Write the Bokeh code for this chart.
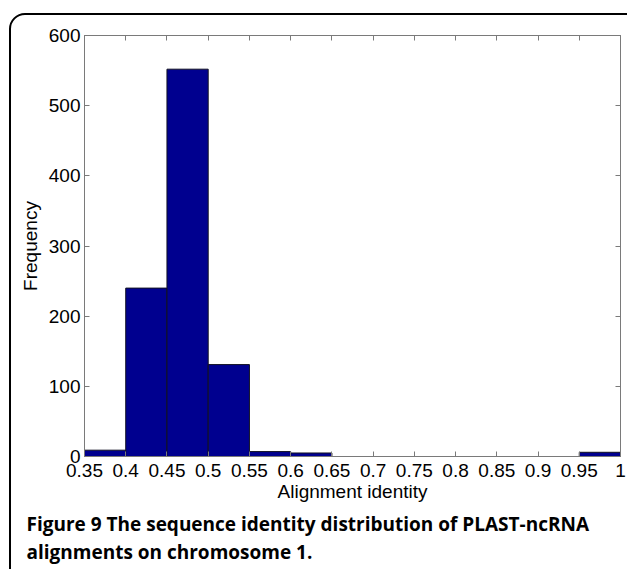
from bokeh.plotting import figure
from bokeh.models import (Range1d, FixedTicker, LinearAxis, Title, ColumnDataSource,
                          InlineStyleSheet)
from bokeh.embed import file_html
from bokeh.resources import INLINE

# Histogram of alignment identity (bin edges and counts per bin)
bin_edges = [0.35, 0.40, 0.45, 0.50, 0.55, 0.60, 0.65, 0.70,
             0.75, 0.80, 0.85, 0.90, 0.95, 1.00]
counts = [9, 240, 552, 131, 7, 5, 0, 0, 0, 0, 0, 0, 6]

x_ticks = [0.35, 0.40, 0.45, 0.50, 0.55, 0.60, 0.65, 0.70,
           0.75, 0.80, 0.85, 0.90, 0.95, 1.00]
x_tick_labels = ["0.35", "0.4", "0.45", "0.5", "0.55", "0.6", "0.65", "0.7",
                 "0.75", "0.8", "0.85", "0.9", "0.95", "1"]
y_ticks = [0, 100, 200, 300, 400, 500, 600]

x_title = "Alignment identity"
y_title = "Frequency"
caption_lines = ["Figure 9 The sequence identity distribution of PLAST-ncRNA",
                 "alignments on chromosome 1."]

TICK_FONT = "Liberation Sans"
AXIS_GRAY = "#7a7a7a"
BAR_BLUE = "#00008f"

# rounded panel border drawn around the whole figure area
panel_css = InlineStyleSheet(css="""
:host { position: relative; overflow: hidden; }
:host::after {
  content: ""; position: absolute; left: 9px; top: 13px;
  width: 660px; height: 640px; box-sizing: border-box;
  border: 2px solid #000; border-radius: 16px; pointer-events: none;
}
""")

p = figure(width=627, height=569, output_backend="svg", toolbar_location=None,
           x_range=Range1d(bin_edges[0], bin_edges[-1]), y_range=Range1d(0, 600),
           min_border_left=84, min_border_right=7, min_border_top=35,
           min_border_bottom=112, x_axis_location=None, y_axis_location=None,
           stylesheets=[panel_css])
p.background_fill_color = "white"
p.border_fill_color = "white"
p.outline_line_color = AXIS_GRAY
p.outline_line_width = 1
p.xgrid.visible = False
p.ygrid.visible = False

# bars (empty bins are left undrawn)
lefts, rights, tops = [], [], []
for i, c in enumerate(counts):
    if c > 0:
        lefts.append(bin_edges[i])
        rights.append(bin_edges[i + 1])
        tops.append(c)
src = ColumnDataSource(dict(left=lefts, right=rights, top=tops, bottom=[0] * len(tops)))
p.quad(left="left", right="right", top="top", bottom="bottom", source=src,
       fill_color=BAR_BLUE, line_color="#111122", line_width=1)


def style_axis(ax):
    ax.axis_line_color = AXIS_GRAY
    ax.major_tick_line_color = AXIS_GRAY
    ax.major_tick_in = 5
    ax.major_tick_out = 0
    ax.minor_tick_line_color = None
    ax.major_label_text_font = TICK_FONT
    ax.major_label_text_color = "black"
    ax.major_label_text_font_size = "19px"
    ax.major_label_standoff = 4
    ax.axis_label_text_font = TICK_FONT
    ax.axis_label_text_font_size = "19px"
    ax.axis_label_text_font_style = "normal"
    ax.axis_label_text_color = "black"


xb = LinearAxis(ticker=FixedTicker(ticks=x_ticks), axis_label=x_title)
xb.major_label_overrides = {t: s for t, s in zip(x_ticks, x_tick_labels)}
style_axis(xb)
xb.major_label_standoff = 7
xb.axis_label_standoff = 1
p.add_layout(xb, "below")

yl = LinearAxis(ticker=FixedTicker(ticks=y_ticks), axis_label=y_title)
style_axis(yl)
yl.axis_label_standoff = 5
p.add_layout(yl, "left")

# box ticks on the top and right edges, without labels
xt = LinearAxis(ticker=FixedTicker(ticks=x_ticks))
style_axis(xt)
xt.major_label_overrides = {t: "" for t in x_ticks}
xt.major_label_standoff = 0
p.add_layout(xt, "above")

yr = LinearAxis(ticker=FixedTicker(ticks=y_ticks))
style_axis(yr)
yr.major_label_overrides = {t: "" for t in y_ticks}
yr.major_label_standoff = 0
p.add_layout(yr, "right")

# two-line caption below the axis
p.add_layout(Title(text="\n".join(caption_lines), align="left", offset=26 - 84,
                   text_font="Open Sans", text_font_style="bold",
                   text_font_size="19px", text_color="black",
                   text_line_height=1.08, standoff=9), "below")

open("out.html", "w").write(file_html(p, INLINE))
